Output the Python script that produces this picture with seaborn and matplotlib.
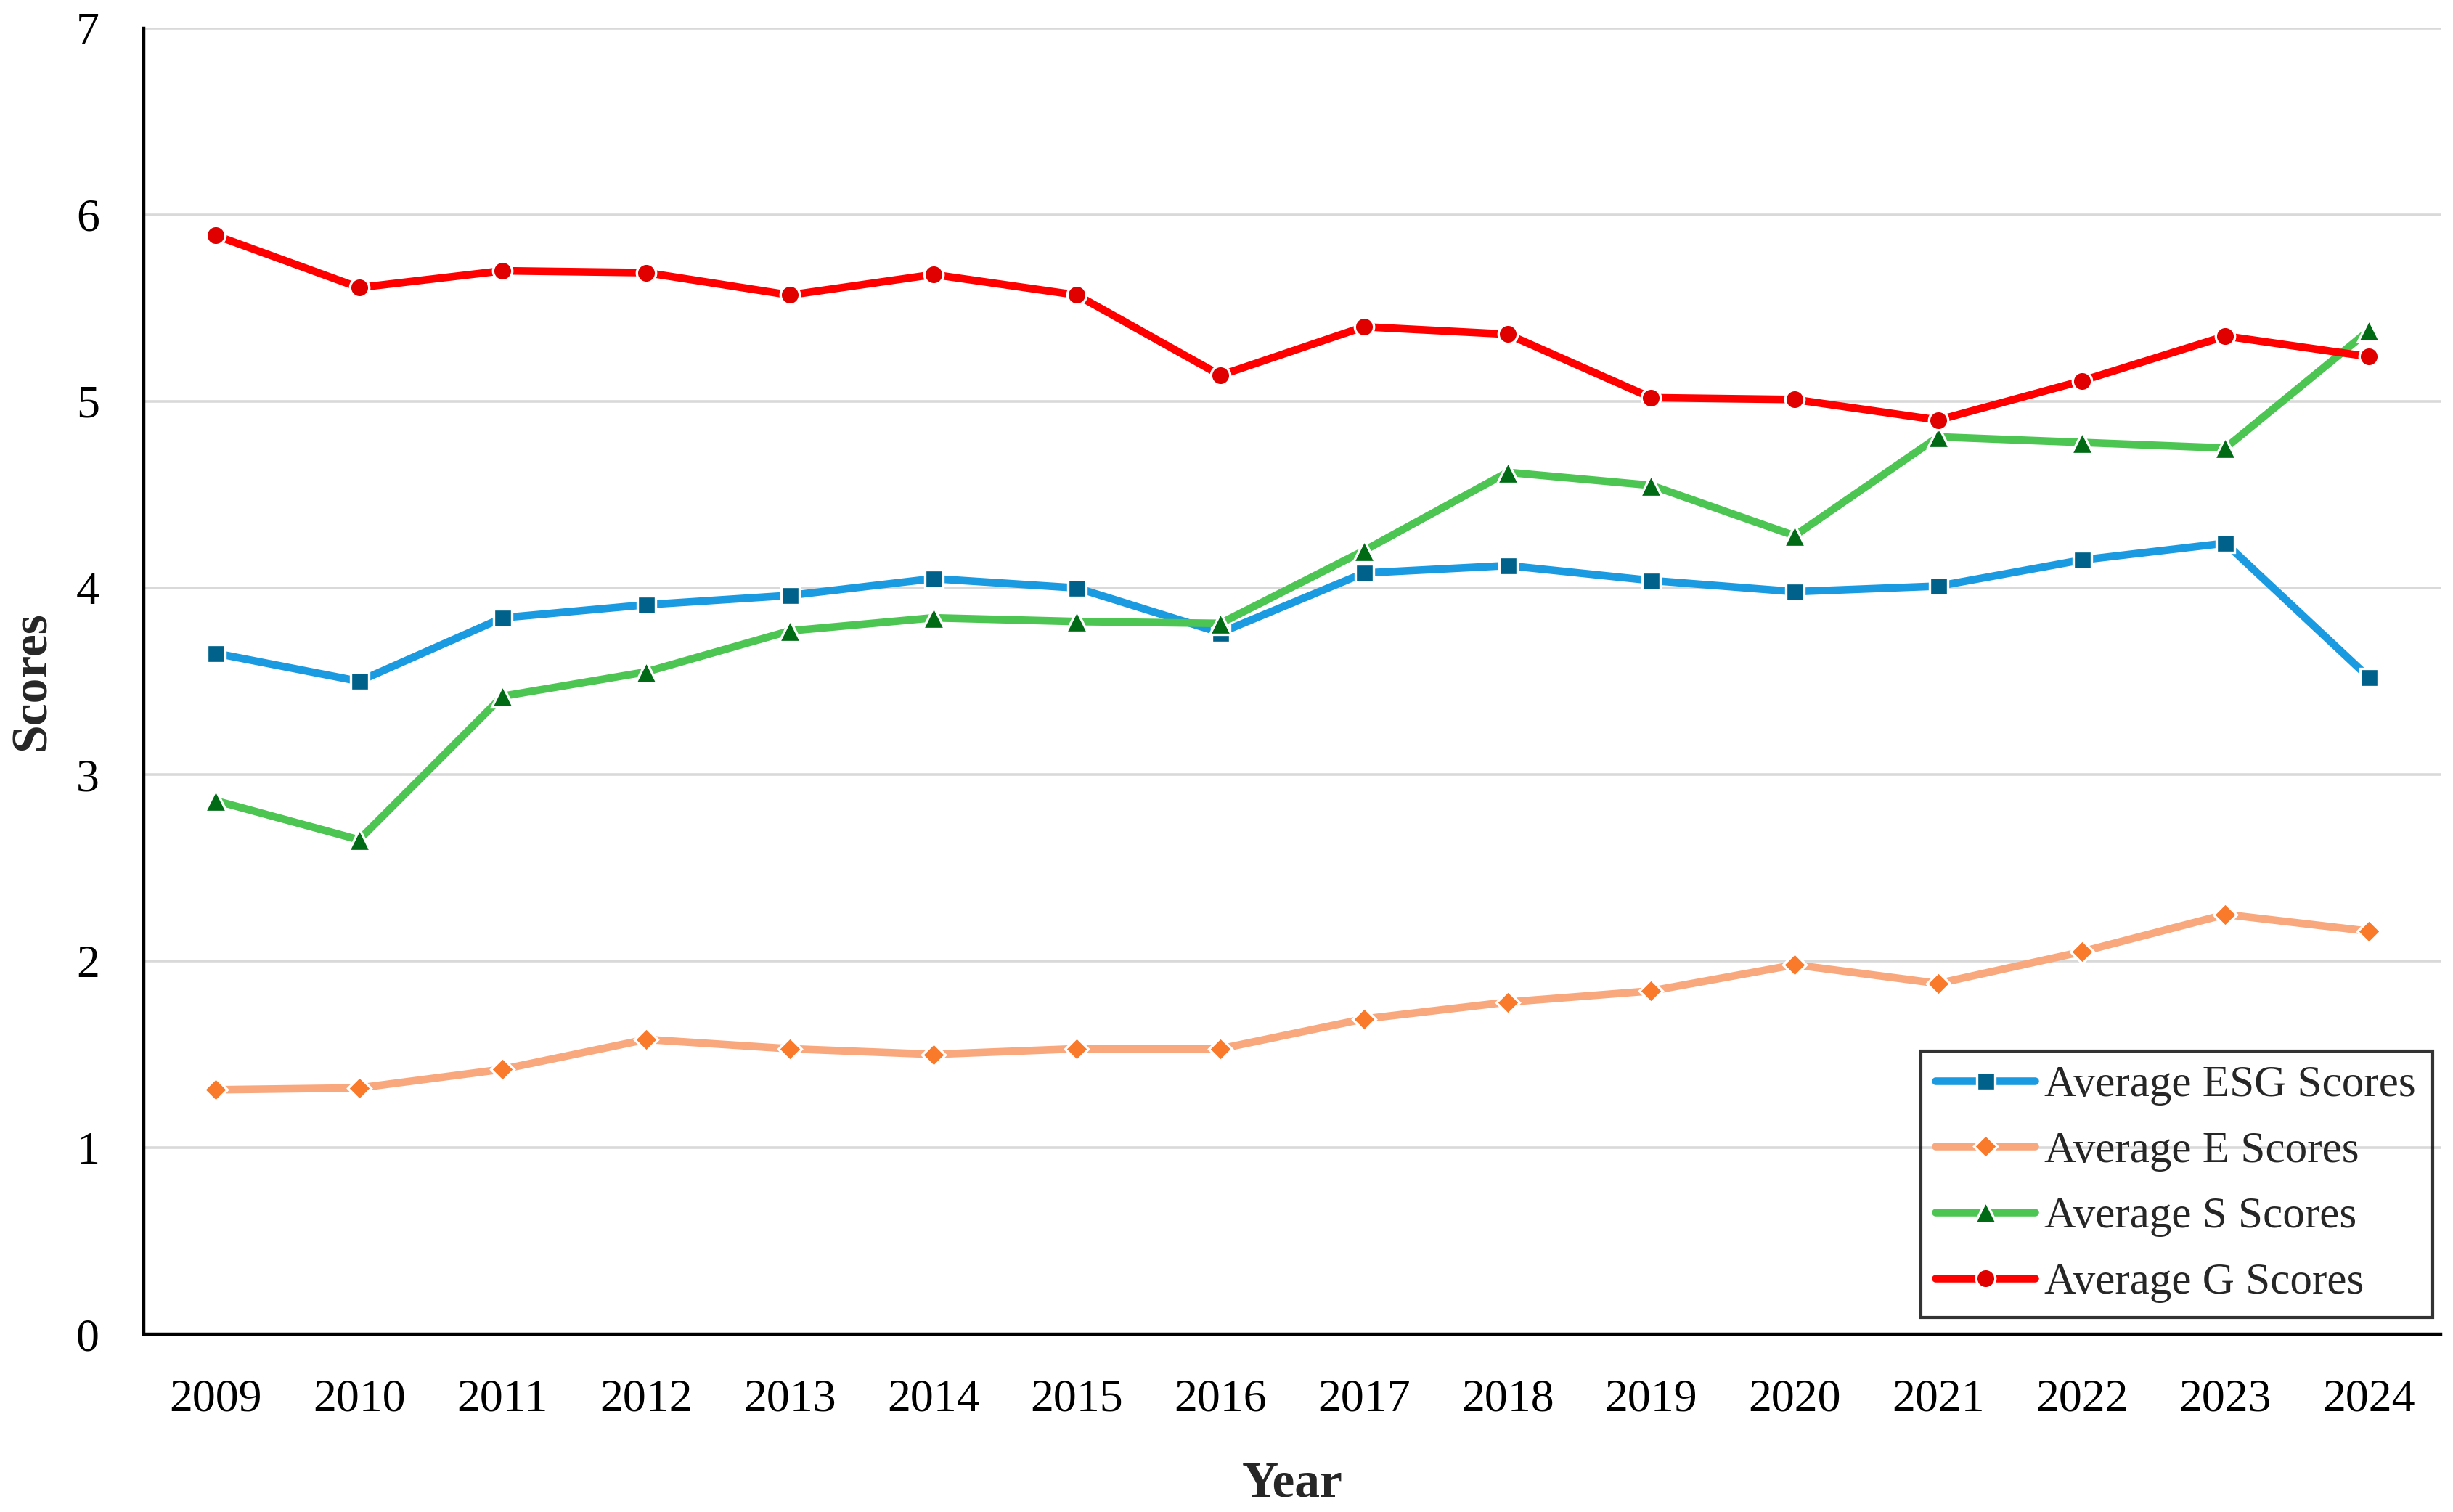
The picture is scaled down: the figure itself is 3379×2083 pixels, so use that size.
import pandas as pd
import matplotlib.pyplot as plt
import seaborn as sns

sns.set_style("white")
plt.rcParams['font.family'] = ['Liberation Serif', 'DejaVu Serif']

# ====================== DATA ======================
years = list(range(2009, 2025))
esg_scores = [3.65, 3.50, 3.84, 3.91, 3.96, 4.05, 4.00, 3.76, 4.08, 4.12, 4.04, 3.98, 4.01, 4.15, 4.24, 3.52]
e_scores = [1.31, 1.32, 1.42, 1.58, 1.53, 1.50, 1.53, 1.53, 1.69, 1.78, 1.84, 1.98, 1.88, 2.05, 2.25, 2.16]
s_scores = [2.86, 2.65, 3.42, 3.55, 3.77, 3.84, 3.82, 3.81, 4.20, 4.62, 4.55, 4.28, 4.81, 4.78, 4.75, 5.38]
g_scores = [5.89, 5.61, 5.70, 5.69, 5.57, 5.68, 5.57, 5.14, 5.40, 5.36, 5.02, 5.01, 4.90, 5.11, 5.35, 5.24]

series_names = ['Average ESG Scores', 'Average E Scores', 'Average S Scores', 'Average G Scores']
series_values = [esg_scores, e_scores, s_scores, g_scores]

# line colour, marker colour, marker, marker size
styles = [
    ('#1a9ae0', '#00628a', 's', 9),
    ('#f9a77d', '#f97a2a', 'D', 8),
    ('#4cc552', '#006b14', '^', 10.5),
    ('#ff0000', '#e00000', 'o', 9.5),
]

df = pd.DataFrame({'Year': years})
for name, vals in zip(series_names, series_values):
    df[name] = vals

fig = plt.figure(figsize=(3379 / 200, 2083 / 200), dpi=200)
ax = fig.add_axes([0.0586, 0.1176, 0.9364, 0.8637])

for name, (lc, mc, mk, ms) in zip(series_names, styles):
    sns.lineplot(data=df, x='Year', y=name, ax=ax, color=lc, linewidth=3.8,
                 marker=mk, markersize=ms, markerfacecolor=mc,
                 markeredgecolor='white', markeredgewidth=1.2, label=name)

ax.set_xlim(2008.5, 2024.5)
ax.set_ylim(0, 7)
ax.set_xticks(years)
ax.set_xticklabels([str(y) for y in years])
ax.set_yticks(range(0, 8))

ax.yaxis.grid(True, color='#d9d9d9', linewidth=1.3)
ax.set_axisbelow(True)
for side in ['top', 'right']:
    ax.spines[side].set_visible(False)
for side in ['left', 'bottom']:
    ax.spines[side].set_color('black')
    ax.spines[side].set_linewidth(1.6)

ax.tick_params(axis='both', length=0, labelsize=23, colors='black')
ax.tick_params(axis='x', pad=22)
ax.tick_params(axis='y', pad=22)

ax.set_xlabel('Year', fontsize=25, fontweight='bold', labelpad=20)
ax.set_ylabel('Scores', fontsize=25, fontweight='bold', labelpad=10)

leg = ax.legend(loc='lower left', bbox_to_anchor=(0.7832, 0.1289, 0.2085, 0),
                bbox_transform=fig.transFigure, borderaxespad=0, mode='expand',
                fontsize=22, frameon=True, fancybox=False,
                facecolor='none', edgecolor='black', framealpha=None,
                handlelength=2.25, handletextpad=0.2,
                labelspacing=0.57, borderpad=0.32)
leg.get_frame().set_linewidth(1.5)

plt.savefig('out.png', dpi=200)
